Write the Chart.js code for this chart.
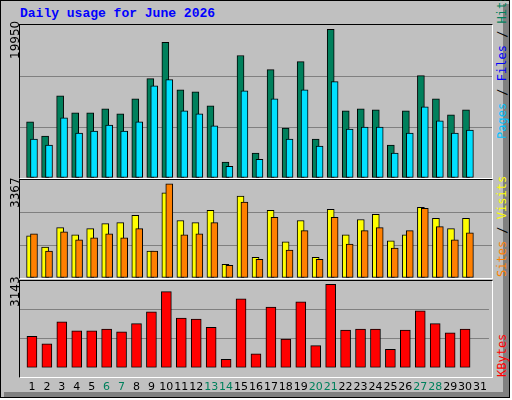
<!DOCTYPE html>
<html><head><meta charset="utf-8">
<script src="https://cdn.jsdelivr.net/npm/chart.js@4"></script>
<style>
html,body{margin:0;padding:0;background:#fff;}
#frame{position:absolute;left:0;top:0;width:510px;height:398px;border:1px solid #000;background:#c0c0c0;box-sizing:border-box;}
#shadowR{position:absolute;left:503px;top:4px;width:6px;height:393px;background:#808080;}
#shadowB{position:absolute;left:4px;top:392px;width:505px;height:5px;background:#808080;}
.panel{position:absolute;box-sizing:border-box;border-top:1px solid #000;border-left:1px solid #000;border-right:1px solid #fff;border-bottom:1px solid #fff;}
canvas{position:absolute;}
.vl{position:absolute;font-family:"DejaVu Sans",sans-serif;font-size:12px;line-height:14px;transform-origin:left top;transform:rotate(-90deg);white-space:nowrap;}
#title{position:absolute;left:20px;top:6px;font-family:"Liberation Mono",monospace;font-weight:bold;font-size:13px;color:#0000ff;}
.vr{font-family:"DejaVu Sans Mono",monospace;font-size:12px;}
</style></head><body>
<div id="frame"></div><div id="shadowR"></div><div id="shadowB"></div>
<div id="title">Daily usage for June 2026</div>
<div class="panel" style="left:19px;top:24px;width:474px;height:155px"></div>
<div class="panel" style="left:19px;top:179px;width:474px;height:100px"></div>
<div class="panel" style="left:19px;top:280px;width:474px;height:98px"></div>
<canvas id="c1" style="left:20px;top:25px;width:472px;height:153px"></canvas>
<canvas id="c2" style="left:20px;top:180px;width:472px;height:98px"></canvas>
<canvas id="c3" style="left:20px;top:281px;width:472px;height:118px"></canvas>
<div class="vl" style="left:8px;top:59px">19950</div>
<div class="vl" style="left:8px;top:208px">3367</div>
<div class="vl" style="left:8px;top:307px">3143</div>
<div class="vl vr" style="left:495px;top:139px"><span style="color:#00c0ff">Pages</span> / <span style="color:#0000ff">Files</span> / <span style="color:#00805c">Hits</span></div>
<div class="vl vr" style="left:495px;top:277px"><span style="color:#ff8000">Sites</span> / <span style="color:#ffff00">Visits</span></div>
<div class="vl vr" style="left:495px;top:377px"><span style="color:#ff0000">KBytes</span></div>
<script>
const days = Array.from({length:31},(_,i)=>i+1);
const weekendDays = [6,7,13,14,20,21,27,28];
const hits = [7310,5470,10720,8490,8490,9020,8360,10330,12950,17680,11510,11250,9410,2060,15970,3240,14130,6520,15180,5080,19380,8750,9020,8880,4290,8750,13350,10330,8230,8880];
const files = [5080,4290,7830,5860,6120,6910,6120,7310,12030,12820,8750,8360,6790,1530,11380,2450,10330,5080,11510,4160,12560,6390,6650,6650,3240,5860,9280,7440,5860,6260];
const sites = [1450,1064,1730,1485,1695,1870,1905,2151,924,2923,1976,1905,2326,468,2817,713,2326,1239,1976,713,2361,1485,2011,2186,1274,1485,2432,2046,1695,2046];
const visits = [1520,924,1590,1309,1379,1520,1379,1695,924,3238,1485,1520,1905,433,2607,643,2081,959,1625,643,2081,1169,1625,1730,1029,1625,2396,1765,1309,1555];
const kbytes = [1136,871,1666,1335,1335,1401,1302,1599,2030,2758,1798,1765,1467,309,2493,507,2195,1037,2393,805,3022,1368,1401,1401,673,1368,2063,1599,1268,1401];
const yMax = [19950,3367,3143];

const SHIFT = 0.13;
const pts = (arr,d)=>arr.map((v,i)=>({x:days[i]+d,y:v}));
function ds(arr,d,color,order){return {data:pts(arr,d),backgroundColor:color,borderColor:'#000',borderWidth:1,barThickness:7,grouped:false,borderSkipped:false,order};}
function make(id,datasets,max,showX){
  return new Chart(document.getElementById(id),{
    type:'bar',
    data:{datasets},
    options:{responsive:false,animation:false,devicePixelRatio:1,
      layout:{padding:0},
      plugins:{legend:{display:false},tooltip:{enabled:false}},
      scales:{
        x:{type:'linear',min:0.2,max:31.6,offset:false,display:showX,
          grid:{display:false},border:{display:false},
          afterBuildTicks:s=>{s.ticks=days.map(v=>({value:v}));},
          ticks:{autoSkip:false,maxRotation:0,padding:5,font:{family:'DejaVu Sans',size:11},
            color:c=>weekendDays.includes(c.tick.value)?'#00805c':'#000'}},
        y:{min:0,max,display:true,
          afterBuildTicks:s=>{s.ticks=[0,max/3,2*max/3,max].map(v=>({value:v}));},
          ticks:{display:false},border:{display:false},
          grid:{drawTicks:false,color:c=>(c.index===1||c.index===2)?'#808080':'rgba(0,0,0,0)',lineWidth:1}}
      }}
  });
}
function sizeCanvas(id){const c=document.getElementById(id);c.width=parseInt(c.style.width);c.height=parseInt(c.style.height);}
['c1','c2','c3'].forEach(sizeCanvas);
make('c1',[ds(hits,-SHIFT,'#00805c',2),ds(files,SHIFT,'#00e0ff',1)],yMax[0],false);
make('c2',[ds(sites,-SHIFT,'#ffff00',2),ds(visits,SHIFT,'#ff8000',1)],yMax[1],false);
make('c3',[Object.assign(ds(kbytes,0,'#ff0000',1),{barThickness:10})],yMax[2],true);
</script>
</body></html>
